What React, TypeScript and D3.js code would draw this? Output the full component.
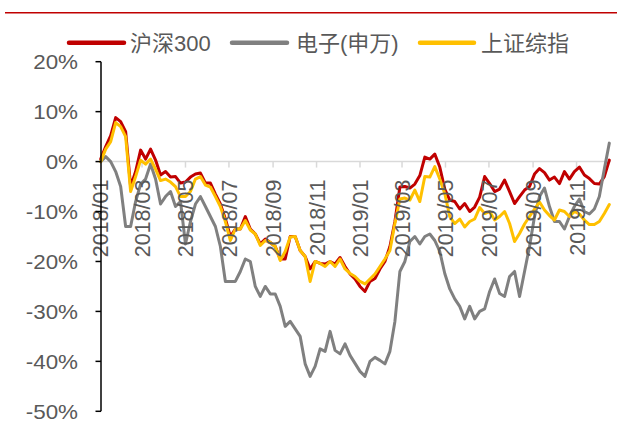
import React from "react";
import * as d3 from "d3";

// Weekly observations, cumulative change (%) since 2018/01/02
const hs300 = [
  0.5, 3, 5.2, 8.8, 8, 6, -5, -2, 2.3, 0.5,
  2.5, 0.3, -2.7, -2, -3.1, -3, -4.3, -4.1, -3.1, -2.5,
  -2.3, -4.3, -4.3, -6.5, -8.5, -11.5, -15, -13.5, -13.5, -11,
  -13.5, -14.5, -16.5, -15.5, -16.2, -17, -19.5, -19.5, -15, -15,
  -17.8, -19, -21.5, -20, -20.4, -20.5, -20, -20.5, -19.2, -21,
  -22.5, -23.5, -25, -26, -24, -23.4, -21.5, -20, -17, -12,
  -5.1, -5, -5.3, -4.5, -2.8, 0.9, 0.5, 1.5, -1.1, -5.5,
  -7.7, -8, -9.5, -8.4, -10, -9.1, -7.1, -3, -4.4, -6,
  -5.5, -3.7, -6, -8.4, -7, -5.7, -5, -2.5, -1.4, -2.2,
  -3.7, -3.1, -4.4, -2, -3.5, -2, -1.1, -2.7, -3.4, -4.4,
  -4.5, -3, 0.3,
];
const electronics = [
  0, 1, 0, -2, -5, -13, -13, -8, -4.5, -3.5,
  -0.5, -3.5, -8.5, -7, -6, -9, -8, -16.5, -12, -8.5,
  -7, -9, -11, -13, -17, -24, -24, -24, -22, -19.5,
  -20, -25, -27, -25, -26.5, -26.5, -29, -33, -32, -33.5,
  -35, -40.5, -43, -41, -37.5, -38, -34, -37.8, -38.5, -36.5,
  -38.8, -40.4, -42, -43, -40, -39.2, -39.8, -40.5, -38, -32,
  -22, -20, -16, -15, -16.5, -15, -14.5, -15.8, -18, -22.4,
  -25.5, -27.5, -29, -31.5, -29, -31.5, -30, -29.5, -26, -23.5,
  -26.4, -27, -23, -22, -27, -22, -17, -11, -7, -5.3,
  -9, -12, -12, -13.5, -11, -9, -7.5, -10, -10.5, -9.5,
  -7, -1.5, 3.7,
];
const shComposite = [
  0, 2.5, 4, 7.8, 7, 5, -6, -3, 0.3, -0.5,
  0.5, -1.5, -3.8, -3.5, -4.1, -5, -7, -7, -6, -3.5,
  -3, -4.7, -5.1, -7, -9, -12, -15.8, -13.5, -13.5, -11.8,
  -13.7, -14.5, -16.8, -15.8, -16.2, -17, -19.8, -18, -15.1, -15,
  -17.8, -19, -24, -20, -20.4, -21, -20, -21, -19.5, -21.5,
  -22.4, -23, -24, -24.5, -23.5, -22.5, -21, -19.5, -17.8, -12.4,
  -7.5, -7.3, -7.7, -5.7, -8, -3, -3.1, -1, -3.5, -6.4,
  -11, -12.4, -11.5, -13.1, -12, -11.5, -9.2, -10.4, -10, -11.7,
  -11, -10, -12.4, -16, -14.4, -12.5, -11, -9.5, -8.1, -9.7,
  -10.8, -11.7, -9.7, -10, -11, -10, -10.5, -11.7, -12.6, -12.6,
  -12, -10.4, -8.6,
];

const seriesNames = ["沪深300", "电子(申万)", "上证综指"];
const seriesColors = ["#c00000", "#808080", "#ffc000"];
const yTicks = [20, 10, 0, -10, -20, -30, -40, -50];
const xTickLabels = [
  "2018/01", "2018/03", "2018/05", "2018/07", "2018/09", "2018/11",
  "2019/01", "2019/03", "2019/05", "2019/07", "2019/09", "2019/11",
];

const W = 617;
const H = 423;
const FONT = "'Liberation Sans', Arial, 'Noto Sans CJK SC', sans-serif";
const TXT = "#595959";

export default function App() {
  const start = new Date(2018, 0, 2);
  const dates = hs300.map((_, i) => d3.timeDay.offset(start, 7 * i));
  const x = d3
    .scaleTime()
    .domain([new Date(2018, 0, 1), new Date(2020, 0, 1)])
    .range([100, 620]);
  const y = d3.scaleLinear().domain([-50, 20]).range([411.3, 61.7]);
  const tickDates = xTickLabels.map((s) => {
    const [yy, mm] = s.split("/").map(Number);
    return new Date(yy, mm - 1, 1);
  });
  const line = d3
    .line<number>()
    .x((_, i) => x(dates[i]))
    .y((d) => y(d));
  const allSeries = [hs300, electronics, shComposite];
  const axisX0 = x(new Date(2018, 0, 1));
  const legendPos = [
    { x1: 69, x2: 124, tx: 130 },
    { x1: 232, x2: 287, tx: 296 },
    { x1: 420, x2: 474, tx: 481 },
  ];

  return (
    <svg
      width={W}
      height={H}
      style={{ position: "absolute", left: 0, top: 0, background: "#fff" }}
      fontFamily={FONT}
    >
      <rect x={0} y={0} width={W} height={H} fill="#fff" />
      <line x1={5} x2={W} y1={12.7} y2={12.7} stroke="#c00000" strokeWidth={1.5} />

      {/* legend */}
      {seriesNames.map((n, i) => (
        <g key={n}>
          <line
            x1={legendPos[i].x1}
            x2={legendPos[i].x2}
            y1={42.7}
            y2={42.7}
            stroke={seriesColors[i]}
            strokeWidth={4.5}
            strokeLinecap="round"
          />
          <text x={legendPos[i].tx} y={50.7} fontSize={22} fill={TXT}>
            {n}
          </text>
        </g>
      ))}

      {/* zero line (category axis) */}
      <line x1={axisX0} x2={611} y1={y(0)} y2={y(0)} stroke="#d9d9d9" strokeWidth={1.5} />
      {tickDates.map((d, i) =>
        i === 0 ? null : (
          <line
            key={"t" + i}
            x1={x(d)}
            x2={x(d)}
            y1={y(0)}
            y2={y(0) + 6}
            stroke="#d9d9d9"
            strokeWidth={1.5}
          />
        )
      )}

      {/* series */}
      {allSeries.map((s, i) => (
        <path
          key={"s" + i}
          d={line(s) || ""}
          fill="none"
          stroke={seriesColors[i]}
          strokeWidth={3}
          strokeLinejoin="round"
          strokeLinecap="round"
        />
      ))}

      {/* x tick labels */}
      {tickDates.map((d, i) => (
        <text
          key={"xl" + i}
          transform={`translate(${x(d) + 8},${y(0) + 18}) rotate(-90)`}
          textAnchor="end"
          fontSize={21.5}
          fill={TXT}
        >
          {xTickLabels[i]}
        </text>
      ))}

      {/* y axis */}
      <line x1={101} x2={101} y1={y(20)} y2={y(-50)} stroke="#000" strokeWidth={1.5} />
      {yTicks.map((t) => (
        <g key={"y" + t}>
          <line x1={95.5} x2={101} y1={y(t)} y2={y(t)} stroke="#000" strokeWidth={1.5} />
          <text
            transform={`translate(78,${y(t) + 7.5}) scale(1.12,1)`}
            textAnchor="end"
            fontSize={20}
            fill={TXT}
          >
            {t + "%"}
          </text>
        </g>
      ))}
    </svg>
  );
}
